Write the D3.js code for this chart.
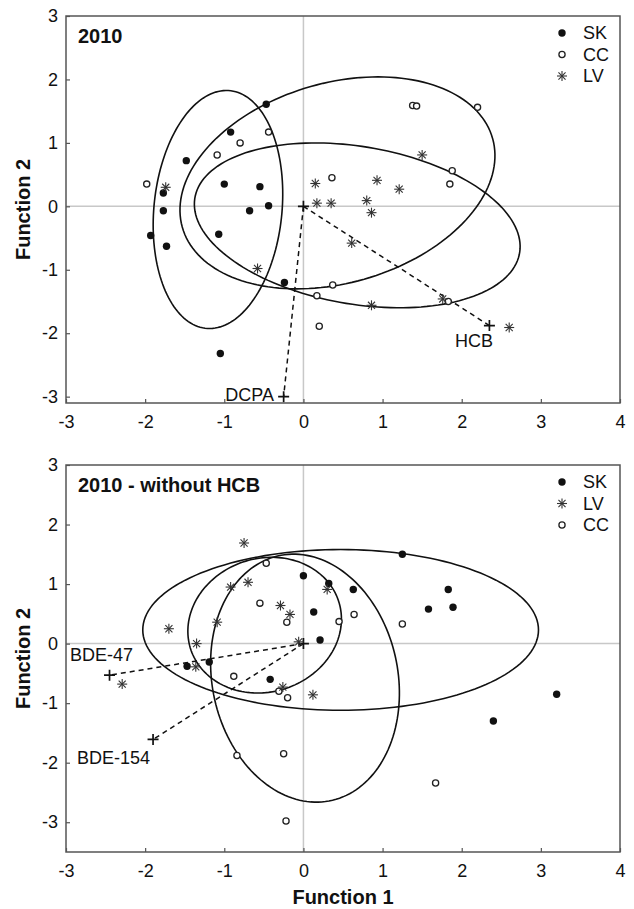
<!DOCTYPE html>
<html lang="en">
<head>
<meta charset="utf-8">
<title>Discriminant functions 2010</title>
<script src="https://d3js.org/d3.v7.min.js"></script>
<style>
  body { margin: 0; background: #fff; }
  text { font-family: "Liberation Sans", Arial, sans-serif; fill: #111; }
</style>
</head>
<body>
<div id="chart"></div>
<script>
// ---- data ----
var xTicks = [-3, -2, -1, 0, 1, 2, 3, 4];
var yTicksTop = [-3, -2, -1, 0, 1, 2, 3];
var yTicksBottom = [-3, -2, -1, 0, 1, 2, 3];

// top panel: 2010
var topSK = [[-1.93,-0.46],[-1.77,0.21],[-1.77,-0.07],[-1.73,-0.63],[-1.48,0.72],[-0.92,1.17],
  [-1.0,0.35],[-0.55,0.31],[-0.44,0.01],[-0.68,-0.07],[-0.47,1.61],[-1.07,-0.44],[-0.24,-1.2],[-1.05,-2.32]];
var topCC = [[-1.98,0.35],[-1.09,0.81],[-0.80,1.0],[-0.44,1.17],[1.38,1.59],[1.43,1.58],[2.2,1.56],
  [1.88,0.56],[1.85,0.35],[0.36,0.45],[0.37,-1.24],[0.17,-1.41],[0.2,-1.89],[1.83,-1.5]];
var topLV = [[-1.74,0.3],[0.15,0.36],[0.93,0.41],[1.21,0.27],[0.80,0.09],[0.17,0.05],[0.35,0.05],
  [0.86,-0.1],[1.50,0.81],[0.61,-0.58],[-0.58,-0.98],[0.86,-1.56],[1.76,-1.46],[2.6,-1.91]];
var topVectors = [{name: "DCPA", x: -0.25, y: -3.0}, {name: "HCB", x: 2.35, y: -1.88}];
// ellipses: centre, semi axes, angle of first axis (deg)
var topEllipses = [
  {cx: -1.08, cy: -0.05, a: 1.88, b: 0.81, angle: 86},
  {cx: 0.43, cy: 0.37, a: 2.1, b: 1.53, angle: 27.8},
  {cx: 0.68, cy: -0.3, a: 2.1, b: 1.23, angle: -14.2}
];

// bottom panel: 2010 without HCB
var botSK = [[0.0,1.14],[0.32,1.01],[0.63,0.91],[0.13,0.53],[0.21,0.06],[1.25,1.5],[1.83,0.91],
  [1.58,0.58],[1.89,0.61],[-1.47,-0.38],[-1.19,-0.31],[-0.42,-0.6],[3.2,-0.85],[2.4,-1.3]];
var botLV = [[-0.75,1.69],[-0.92,0.95],[-0.70,1.03],[-0.29,0.64],[-0.17,0.49],[-1.09,0.36],[-1.7,0.25],
  [-1.35,0.0],[-0.06,0.03],[0.3,0.91],[-1.36,-0.39],[-2.29,-0.68],[-0.26,-0.73],[0.12,-0.86]];
var botCC = [[-0.47,1.35],[-0.55,0.68],[-0.21,0.36],[0.45,0.37],[0.64,0.49],[1.25,0.33],[-0.88,-0.55],
  [-0.31,-0.8],[-0.2,-0.91],[-0.84,-1.88],[-0.25,-1.85],[-0.22,-2.98],[1.67,-2.34]];
var botVectors = [{name: "BDE-47", x: -2.45, y: -0.53}, {name: "BDE-154", x: -1.9, y: -1.61}];
var botEllipses = [
  {cx: 0.47, cy: 0.23, a: 2.5, b: 1.35, angle: 0},
  {cx: -0.49, cy: 0.31, a: 1.151, b: 0.957, angle: 75.5},
  {cx: 0.02, cy: -0.58, a: 2.09, b: 1.18, angle: 95.8}
];

var svg = d3.select("#chart").append("svg")
    .attr("width", 634)
    .attr("height", 909);

var x = d3.scaleLinear().domain([-3, 4]).range([66, 620]);

function star(g, px, py) {
  var r = 5;
  [0, 45, 90, 135].forEach(function(a) {
    var rad = a * Math.PI / 180;
    g.append("line")
      .attr("x1", px - r * Math.cos(rad)).attr("y1", py - r * Math.sin(rad))
      .attr("x2", px + r * Math.cos(rad)).attr("y2", py + r * Math.sin(rad))
      .attr("stroke", "#333").attr("stroke-width", 1.1);
  });
}

function cross(g, px, py) {
  var r = 5.5;
  g.append("path")
    .attr("d", "M" + (px - r) + "," + py + "H" + (px + r) + "M" + px + "," + (py - r) + "V" + (py + r))
    .attr("stroke", "#111").attr("stroke-width", 1.7);
}

function drawPanel(opt) {
  var y = d3.scaleLinear().domain(opt.yDomain).range(opt.yRange);
  var g = svg.append("g");

  // zero lines
  g.append("line").attr("x1", x(0)).attr("x2", x(0)).attr("y1", opt.yRange[0]).attr("y2", opt.yRange[1])
    .attr("stroke", "#c8c8c8").attr("stroke-width", 1.5);
  g.append("line").attr("x1", 66).attr("x2", 620).attr("y1", y(0)).attr("y2", y(0))
    .attr("stroke", "#c8c8c8").attr("stroke-width", 1.5);

  // axes (plain hyphen for negatives, as in the figure)
  var fmt = function(d) { return String(d); };
  var xa = g.append("g")
    .attr("transform", "translate(0," + opt.yRange[0] + ")")
    .call(d3.axisBottom(x).tickValues(xTicks).tickSize(-4).tickPadding(12).tickFormat(fmt));
  var ya = g.append("g")
    .attr("transform", "translate(66,0)")
    .call(d3.axisLeft(y).tickValues(opt.yTicks).tickSize(-4).tickPadding(8).tickFormat(fmt));
  [xa, ya].forEach(function(a) {
    a.select(".domain").remove();
    a.selectAll("line").attr("stroke", "#555").attr("stroke-width", 1.2);
    a.selectAll("text").attr("font-size", 18).attr("fill", "#111")
      .style("font-family", "'Liberation Sans', Arial, sans-serif");
  });

  // ellipses
  var line = d3.line().x(function(d) { return x(d[0]); }).y(function(d) { return y(d[1]); })
    .curve(d3.curveLinearClosed);
  opt.ellipses.forEach(function(e) {
    var th = e.angle * Math.PI / 180, pts = [];
    for (var i = 0; i < 160; i++) {
      var t = i / 160 * 2 * Math.PI;
      pts.push([e.cx + e.a * Math.cos(t) * Math.cos(th) - e.b * Math.sin(t) * Math.sin(th),
                e.cy + e.a * Math.cos(t) * Math.sin(th) + e.b * Math.sin(t) * Math.cos(th)]);
    }
    g.append("path").attr("d", line(pts)).attr("fill", "none")
      .attr("stroke", "#111").attr("stroke-width", 1.6);
  });

  // vectors
  cross(g, x(0), y(0));
  opt.vectors.forEach(function(v) {
    g.append("line").attr("x1", x(0)).attr("y1", y(0)).attr("x2", x(v.x)).attr("y2", y(v.y))
      .attr("stroke", "#111").attr("stroke-width", 1.5).attr("stroke-dasharray", "5,4");
    cross(g, x(v.x), y(v.y));
  });
  opt.labels.forEach(function(l) {
    g.append("text").attr("x", l.x).attr("y", l.y).attr("text-anchor", l.anchor)
      .attr("font-size", 18).text(l.text);
  });

  // points
  opt.sk.forEach(function(d) {
    g.append("circle").attr("cx", x(d[0])).attr("cy", y(d[1])).attr("r", 3.7).attr("fill", "#111");
  });
  opt.cc.forEach(function(d) {
    g.append("circle").attr("cx", x(d[0])).attr("cy", y(d[1])).attr("r", 3.1)
      .attr("fill", "#fff").attr("stroke", "#222").attr("stroke-width", 1.3);
  });
  opt.lv.forEach(function(d) { star(g, x(d[0]), y(d[1])); });

  // frame
  g.append("rect").attr("x", 66).attr("y", opt.yRange[1]).attr("width", 554)
    .attr("height", opt.yRange[0] - opt.yRange[1])
    .attr("fill", "none").attr("stroke", "#555").attr("stroke-width", 1.5);

  // title
  g.append("text").attr("x", 78).attr("y", opt.yRange[1] + 27).attr("font-size", 20)
    .attr("font-weight", "bold").text(opt.title);

  // legend
  opt.legend.forEach(function(k, i) {
    var ly = opt.yRange[1] + 17 + i * 21.5;
    if (k == "SK") g.append("circle").attr("cx", 562).attr("cy", ly).attr("r", 3.7).attr("fill", "#111");
    if (k == "CC") g.append("circle").attr("cx", 562).attr("cy", ly).attr("r", 3.1)
      .attr("fill", "#fff").attr("stroke", "#222").attr("stroke-width", 1.3);
    if (k == "LV") star(g, 562, ly);
    g.append("text").attr("x", 583).attr("y", ly).attr("dy", "0.35em").attr("font-size", 18).text(k);
  });

  // y label
  g.append("text")
    .attr("transform", "translate(30," + ((opt.yRange[0] + opt.yRange[1]) / 2) + ") rotate(-90)")
    .attr("text-anchor", "middle").attr("font-size", 20).attr("font-weight", "bold")
    .text("Function 2");
}

drawPanel({
  yDomain: [-3.1, 3], yRange: [403, 16], yTicks: yTicksTop, title: "2010",
  sk: topSK, cc: topCC, lv: topLV, ellipses: topEllipses, vectors: topVectors,
  labels: [{text: "DCPA", x: 274, y: 401, anchor: "end"}, {text: "HCB", x: 474, y: 347, anchor: "middle"}],
  legend: ["SK", "CC", "LV"]
});

drawPanel({
  yDomain: [-3.5, 3], yRange: [852, 465], yTicks: yTicksBottom, title: "2010 - without HCB",
  sk: botSK, cc: botCC, lv: botLV, ellipses: botEllipses, vectors: botVectors,
  labels: [{text: "BDE-47", x: 70, y: 661, anchor: "start"}, {text: "BDE-154", x: 77, y: 764, anchor: "start"}],
  legend: ["SK", "LV", "CC"]
});

svg.append("text").attr("x", 343).attr("y", 904).attr("text-anchor", "middle")
  .attr("font-size", 20).attr("font-weight", "bold").text("Function 1");
</script>
</body>
</html>
